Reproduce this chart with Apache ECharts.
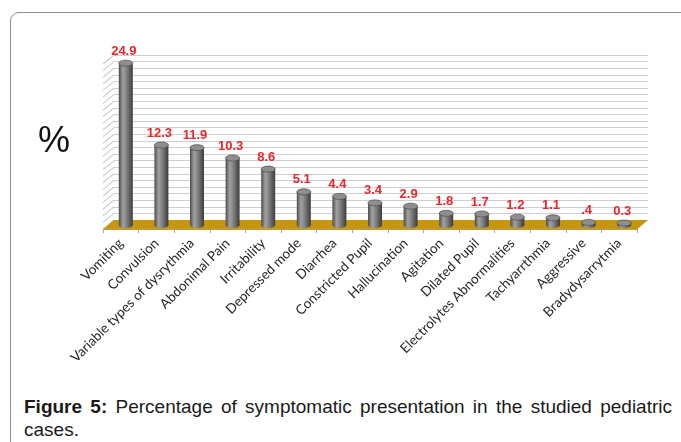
<!DOCTYPE html>
<html><head><meta charset="utf-8">
<script src="https://cdn.jsdelivr.net/npm/echarts@6/dist/echarts.min.js"></script>
<style>
html,body{margin:0;padding:0;background:#fff;width:681px;height:442px;overflow:hidden;}
#frame{position:absolute;left:10px;top:12px;width:720px;height:470px;border:1px solid #8f8f8f;border-radius:9px;box-sizing:border-box;}
#chart{position:absolute;left:0;top:0;width:681px;height:385px;}
#cap{position:absolute;left:24px;width:648px;top:396px;margin:0;font-family:"Liberation Sans",Arial,sans-serif;font-size:19px;line-height:22.7px;color:#1a1a1a;text-align:justify;}
</style></head>
<body>
<div id="frame"></div>
<div id="chart"></div>
<p id="cap"><b>Figure 5:</b> Percentage of symptomatic presentation in the studied pediatric cases.</p>
<script>
const categories = ["Vomiting","Convulsion","Variable types of dysrythmia","Abdonimal Pain","Irritability","Depressed mode","Diarrhea","Constricted Pupil","Hallucination","Agitation","Dilated Pupil","Electrolytes Abnormalities","Tachyarrthmia","Aggressive","Bradydysarrytmia"];
const values = [24.9,12.3,11.9,10.3,8.6,5.1,4.4,3.4,2.9,1.8,1.7,1.2,1.1,0.4,0.3];
const valueLabels = ["24.9","12.3","11.9","10.3","8.6","5.1","4.4","3.4","2.9","1.8","1.7","1.2","1.1",".4","0.3"];
const yMin = 0, yMax = 25, yStep = 1;
const yAxisTitle = "%";

const chart = echarts.init(document.getElementById('chart'), null, {renderer:'canvas'});
const barGrad = {type:'linear',x:0,y:0,x2:1,y2:0,colorStops:[
  {offset:0,color:'#4c4c4c'},{offset:0.3,color:'#a2a2a2'},{offset:0.55,color:'#828282'},{offset:1,color:'#3c3c3c'}]};

const option = {
  animation:false,
  backgroundColor:'transparent',
  graphic:[{type:'text', left:38, top:124, style:{text:yAxisTitle, font:'36px "Liberation Sans", Arial, sans-serif', fill:'#111'}}],
  grid:[
    {left:114, top:55, width:534, height:165},
    {left:108, top:62.5, width:534, height:162.5},
    {left:103, top:65, width:534, height:164}
  ],
  xAxis:[
    {type:'category', data:categories, gridIndex:0, show:false},
    {type:'category', data:categories, gridIndex:1, show:false},
    {type:'category', data:categories, gridIndex:2,
      axisLine:{lineStyle:{color:'#a6a6a6'}},
      axisTick:{show:true, length:4, interval:0, lineStyle:{color:'#a6a6a6'}},
      axisLabel:{interval:0, rotate:45, margin:12, color:'#262626', fontSize:13.5, fontFamily:'Lato, "Liberation Sans", sans-serif'}}
  ],
  yAxis:[
    {type:'value', gridIndex:0, min:yMin, max:yMax, interval:yStep,
      axisLine:{show:false}, axisTick:{show:false}, axisLabel:{show:false},
      splitLine:{show:true, lineStyle:{color:'#cfcfcf', width:1.2}}},
    {type:'value', gridIndex:1, min:yMin, max:yMax, show:false},
    {type:'value', gridIndex:2, min:yMin, max:yMax, show:false}
  ],
  series:[
    {type:'custom', xAxisIndex:0, yAxisIndex:0, data:[[0,0]], silent:true, z:1,
      renderItem(params, api){
        const band = api.size([1,0])[0];
        const children=[];
        for(let v=yMin; v<=yMax; v+=yStep){
          const p = api.coord([0,v]);
          const x = p[0]-band/2;
          children.push({type:'line', shape:{x1:x,y1:p[1],x2:x-11,y2:p[1]+9}, style:{stroke:'#cfcfcf', lineWidth:1.2}});
        }
        return {type:'group', children};
      }},
    {type:'custom', xAxisIndex:1, yAxisIndex:1, data:[[0,0]], silent:true, z:2,
      renderItem(params, api){
        const band = api.size([1,0])[0];
        const a = api.coord([0,0]), b = api.coord([categories.length-1,0]);
        const xl=a[0]-band/2, xr=b[0]+band/2, y=a[1];
        return {type:'polygon', shape:{points:[[xl-5,y+4.5],[xr-5,y+4.5],[xr+6,y-5],[xl+6,y-5]]}, style:{fill:'#c6960f'}};
      }},
    {type:'custom', xAxisIndex:1, yAxisIndex:1, z:3, silent:true,
      data: values.map((v,i)=>[i,v]),
      renderItem(params, api){
        const i = api.value(0), v = api.value(1);
        const top = api.coord([i,v]), base = api.coord([i,0]);
        const cx = top[0], rx=7, ry=3;
        return {type:'group', children:[
          {type:'ellipse', shape:{cx:cx, cy:base[1], rx:rx, ry:ry}, style:{fill:barGrad}},
          {type:'rect', shape:{x:cx-rx, y:top[1], width:rx*2, height:base[1]-top[1]}, style:{fill:barGrad}},
          {type:'ellipse', shape:{cx:cx, cy:top[1], rx:rx, ry:ry}, style:{fill:'#8e8e8e', stroke:'#4a4a4a', lineWidth:0.7}},
          {type:'text', style:{text:valueLabels[i], x:cx-2, y:top[1]-12, align:'center', verticalAlign:'middle', fill:'#e8262c', font:'bold 13px "Liberation Sans", Arial, sans-serif'}}
        ]};
      }}
  ]
};
chart.setOption(option);
</script>
</body></html>
